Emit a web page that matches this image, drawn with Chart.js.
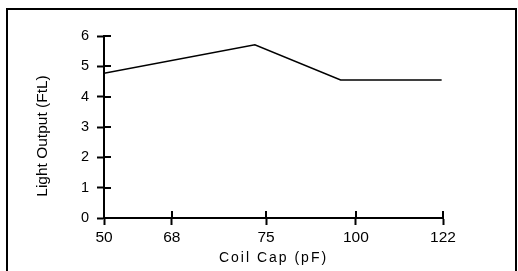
<!DOCTYPE html>
<html>
<head>
<meta charset="utf-8">
<script src="https://cdn.jsdelivr.net/npm/chart.js@4/dist/chart.umd.min.js"></script>
<style>
  body { margin: 0; background: #fff; }
  #wrap { position: relative; width: 518px; height: 271px; overflow: hidden; }
  #frame {
    position: absolute; left: 6px; top: 8px; width: 507px; height: 270px;
    border: 2px solid #000; border-bottom: none;
  }
  canvas { position: absolute; left: 0; top: 0; }
</style>
</head>
<body>
<div id="wrap">
  <div id="frame"></div>
  <canvas id="chart" width="518" height="271"></canvas>
</div>
<script>
// x axis is drawn as a plain 0-100 track, tick labels sit at uneven spots
const tickLabels = ["50", "68", "75", "100", "122"];
const tickPos = [0, 20, 47.8, 74.3, 100];

// line vertices along the same track
const pointPos = [0, 44.5, 69.8, 99.6];
const lightOutput = [4.77, 5.71, 4.55, 4.55];

const xTitle = "Coil Cap (pF)";
const yTitle = "Light Output (FtL)";

const font = "'Liberation Sans', Arial, sans-serif";

// ticks in the picture cross the axis, chart.js only draws the outer half
const crossTicks = {
  id: "crossTicks",
  afterDraw(chart) {
    const { ctx, scales: { x, y }, chartArea } = chart;
    ctx.save();
    ctx.strokeStyle = "#000";
    ctx.lineWidth = 2;
    ctx.beginPath();
    y.ticks.forEach((t, i) => {
      const py = Math.round(y.getPixelForTick(i));
      ctx.moveTo(x.left, py);
      ctx.lineTo(x.left + 7, py);
    });
    x.ticks.forEach((t, i) => {
      const px = Math.round(x.getPixelForTick(i));
      ctx.moveTo(px, y.bottom);
      ctx.lineTo(px, y.bottom - 7);
    });
    ctx.stroke();

    // axis titles
    ctx.fillStyle = "#000";
    ctx.font = "14px " + font;
    ctx.textAlign = "center";
    ctx.textBaseline = "middle";
    ctx.letterSpacing = "2px";
    ctx.fillText(xTitle, (chartArea.left + chartArea.right) / 2, 258);
    ctx.letterSpacing = "0px";
    ctx.font = "15.5px " + font;
    ctx.translate(chartArea.left - 61, (chartArea.top + chartArea.bottom) / 2 + 9);
    ctx.rotate(-Math.PI / 2);
    ctx.fillText(yTitle, 0, 0);
    ctx.restore();
  }
};

const ctx = document.getElementById("chart").getContext("2d");

const chart = new Chart(ctx, {
  type: "line",
  data: {
    datasets: [
      {
        label: "Light Output",
        data: pointPos.map((p, i) => ({ x: p, y: lightOutput[i] })),
        borderColor: "#000",
        borderWidth: 1.6,
        pointRadius: 0,
        tension: 0,
        fill: false,
      },
    ],
  },
  options: {
    responsive: false,
    devicePixelRatio: 1,
    animation: false,
    layout: {
      padding: { left: 24, right: 75, top: 36, bottom: 13 },
    },
    plugins: {
      legend: { display: false },
      tooltip: { enabled: false },
    },
    scales: {
      x: {
        type: "linear",
        min: 0,
        max: 100,
        afterBuildTicks: (scale) => {
          scale.ticks = tickPos.map((v) => ({ value: v }));
        },
        afterFit: (scale) => {
          scale.height = 40;
        },
        ticks: {
          autoSkip: false,
          maxRotation: 0,
          color: "#000",
          padding: 3,
          font: { family: font, size: 15.5 },
          callback: (v, i) => tickLabels[i],
        },
        grid: {
          drawOnChartArea: false,
          drawTicks: true,
          tickLength: 7,
          tickWidth: 2,
          tickColor: "#000",
        },
        border: { display: true, color: "#000", width: 2 },
      },
      y: {
        min: 0,
        max: 6,
        afterFit: (scale) => {
          scale.width = 80;
        },
        ticks: {
          stepSize: 1,
          color: "#000",
          padding: 8,
          font: { family: font, size: 14.5 },
        },
        grid: {
          drawOnChartArea: false,
          drawTicks: true,
          tickLength: 7,
          tickWidth: 2,
          tickColor: "#000",
        },
        border: { display: true, color: "#000", width: 2 },
      },
    },
  },
  plugins: [crossTicks],
});
</script>
</body>
</html>
